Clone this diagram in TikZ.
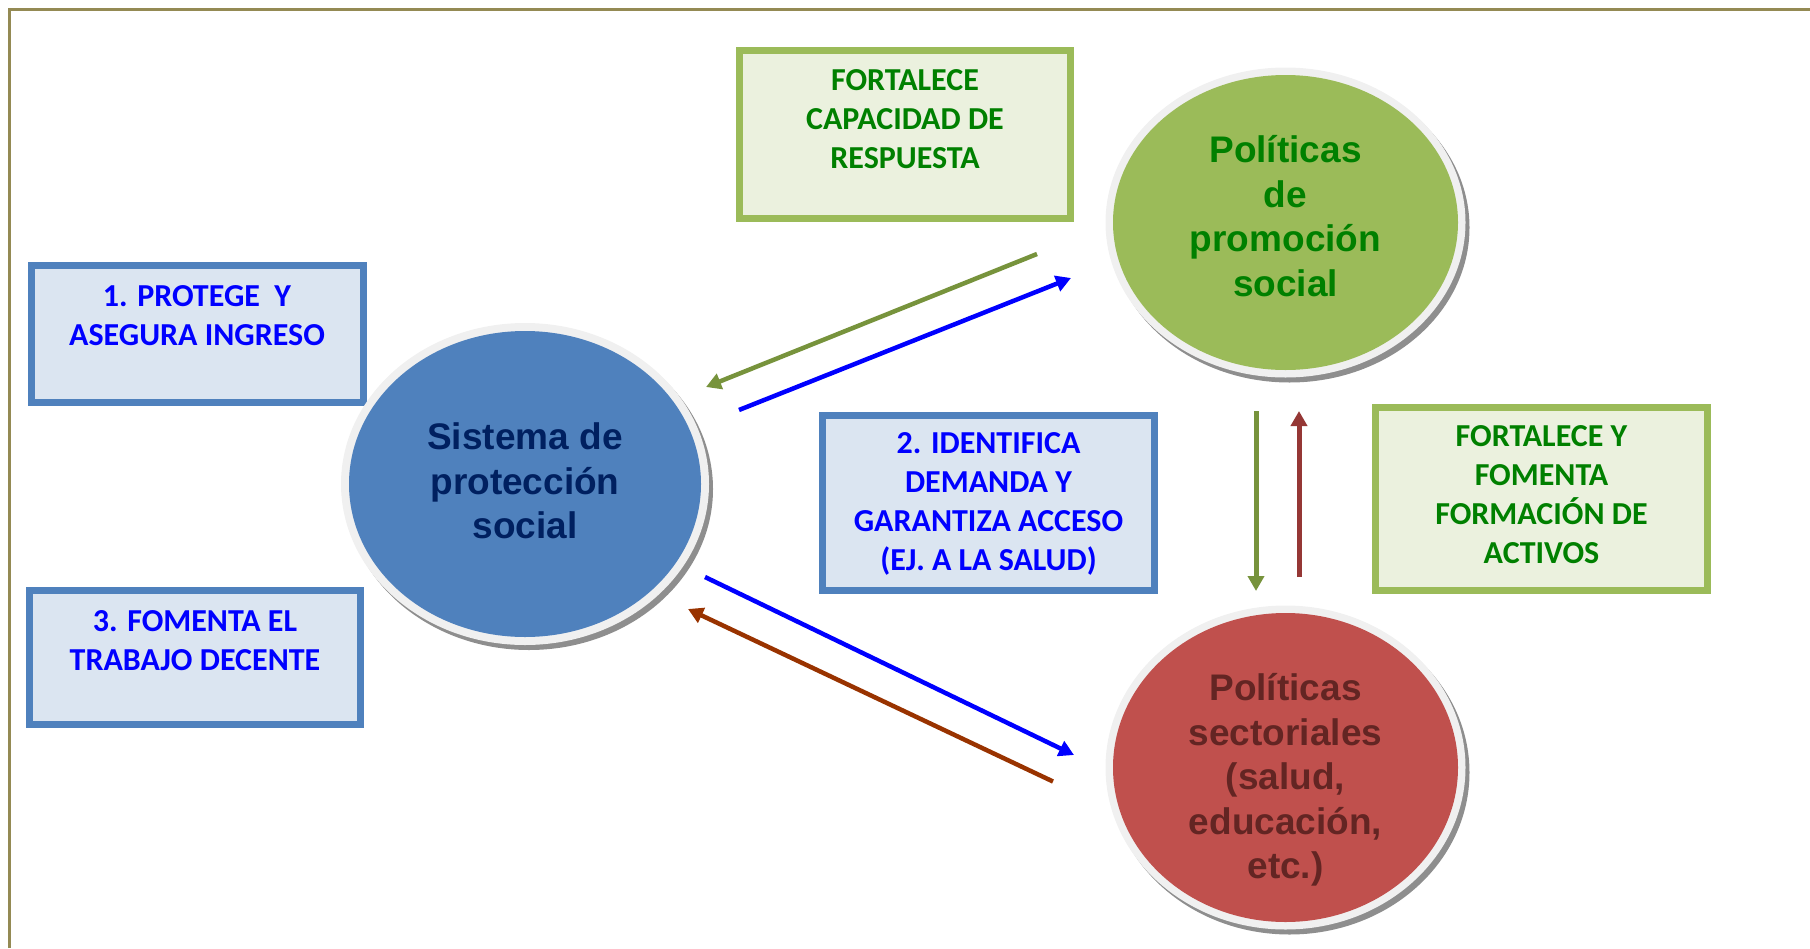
\documentclass[tikz,border=0pt]{standalone}
\usepackage{fontspec}
\setmainfont{Liberation Sans}
\newfontfamily\carl{Carlito}
\usetikzlibrary{arrows.meta,shapes.geometric}
\definecolor{framecol}{HTML}{948A54}
\definecolor{bbord}{HTML}{4F81BD}
\definecolor{bfill}{HTML}{DBE5F1}
\definecolor{gbord}{HTML}{9BBB59}
\definecolor{gfill}{HTML}{EBF1DE}
\definecolor{gtext}{HTML}{008000}
\definecolor{btext}{HTML}{0000FF}
\definecolor{cblue}{HTML}{4F81BD}
\definecolor{cbluetext}{HTML}{002060}
\definecolor{cgreen}{HTML}{9BBB59}
\definecolor{cred}{HTML}{C0504D}
\definecolor{credtext}{HTML}{632523}
\definecolor{agreen}{HTML}{77933C}
\definecolor{ared}{HTML}{953735}
\definecolor{abrown}{HTML}{993300}
\definecolor{ablue}{HTML}{0000FF}
\definecolor{ringcol}{HTML}{F0F0F0}
\definecolor{shadowcol}{HTML}{8E8E8E}
\begin{document}
\begin{tikzpicture}[x=1pt,y=-1pt,
  bluebox/.style={draw=bbord,fill=bfill,line width=6.5pt,rectangle,inner sep=0pt},
  greenbox/.style={draw=gbord,fill=gfill,line width=6.5pt,rectangle,inner sep=0pt},
  boxtext/.style={align=center,inner sep=0pt,font=\carl\bfseries\fontsize{32}{39}\selectfont},
  circ/.style={ellipse,inner sep=0pt},
  circtext/.style={align=center,inner sep=0pt,font=\bfseries\fontsize{37}{44.5}\selectfont},
  arr/.style={line width=4.5pt,-{Triangle[length=15pt,width=16pt]}},
  varr/.style={line width=5pt,-{Triangle[length=15pt,width=16pt]}}
]
\useasboundingbox (0,0) rectangle (1810,948);
\draw[framecol,line width=3pt] (9.5,948) -- (9.5,9.5) -- (1810,9.5);

% boxes
\node[bluebox,minimum width=332pt,minimum height=137pt] (b1) at (197.5,334) {};
\node[boxtext,text=btext] (t1) at (197,315.5) {1. PROTEGE~ Y\\ASEGURA INGRESO};
\node[bluebox,minimum width=331pt,minimum height=134pt] (b3) at (195,657.5) {};
\node[boxtext,text=btext] (t3) at (195,640.5) {3. FOMENTA EL\\TRABAJO DECENTE};
\node[greenbox,minimum width=331pt,minimum height=168pt] (bfc) at (905,134.5) {};
\node[boxtext,text=gtext] (tfc) at (905,119) {FORTALECE\\CAPACIDAD DE\\RESPUESTA};
\node[bluebox,minimum width=332pt,minimum height=175pt] (b2) at (988.5,503) {};
\node[boxtext,text=btext] (t2) at (988.5,504) {2. IDENTIFICA\\DEMANDA Y\\GARANTIZA ACCESO\\(EJ. A LA SALUD)};
\node[greenbox,minimum width=332pt,minimum height=183pt] (bfy) at (1541.5,499) {};
\node[boxtext,text=gtext] (tfy) at (1541.5,495) {FORTALECE Y\\FOMENTA\\FORMACIÓN DE\\ACTIVOS};

% circles: shadow, ring, fill
\fill[shadowcol] (529,489) ellipse [x radius=184pt, y radius=161pt];
\fill[ringcol] (525,484) ellipse [x radius=184pt, y radius=161pt];
\node[circ,fill=cblue,minimum width=352pt,minimum height=306pt] (sps) at (525,484) {};
\node[circtext,text=cbluetext] (tsps) at (525,481) {Sistema de\\protección\\social};

\fill[shadowcol] (1289.5,227.5) ellipse [x radius=180pt, y radius=155pt];
\fill[ringcol] (1285.5,222.5) ellipse [x radius=180pt, y radius=155pt];
\node[circ,fill=cgreen,minimum width=345pt,minimum height=295pt] (pps) at (1285.5,222.5) {};
\node[circtext,text=gtext] (tpps) at (1285.5,216) {Políticas\\de\\promoción\\social};

\fill[shadowcol] (1289.5,772.5) ellipse [x radius=180pt, y radius=162pt];
\fill[ringcol] (1285.5,767.5) ellipse [x radius=180pt, y radius=162pt];
\node[circ,fill=cred,minimum width=345pt,minimum height=309pt] (pse) at (1285.5,767.5) {};
\node[circtext,text=credtext] (tpse) at (1285.5,780) {Políticas\\sectoriales\\(salud,\\educación,\\etc.)};

% arrow end points
\coordinate (g1s) at (1037,254);
\coordinate (g1e) at (706,387);
\coordinate (u1s) at (739,410);
\coordinate (u1e) at (1071,278);
\coordinate (u2s) at (705,577);
\coordinate (u2e) at (1074,755);
\coordinate (r1s) at (1053,781.5);
\coordinate (r1e) at (688,609);
\coordinate (vgs) at (1256,411);
\coordinate (vge) at (1256,591);
\coordinate (vrs) at (1299,577);
\coordinate (vre) at (1299,411);

\draw[arr,agreen] (g1s) -- (g1e);
\draw[arr,ablue] (u1s) -- (u1e);
\draw[arr,ablue] (u2s) -- (u2e);
\draw[arr,abrown] (r1s) -- (r1e);
\draw[varr,agreen] (vgs) -- (vge);
\draw[varr,ared] (vrs) -- (vre);
\end{tikzpicture}
\end{document}
